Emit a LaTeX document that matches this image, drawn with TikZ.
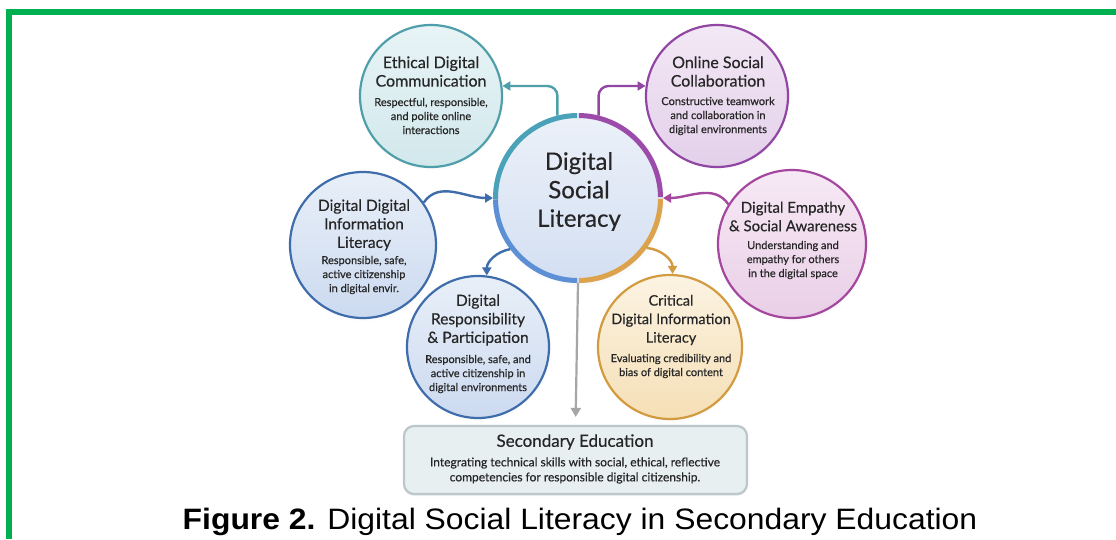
\documentclass[tikz,border=0pt]{standalone}
\usepackage{fontspec}
\setmainfont{Lato}
\newfontfamily\medfont{Lato}[FakeBold=0.45]
\newfontfamily\capfont{Liberation Sans}
\usetikzlibrary{arrows.meta,shadows}
\definecolor{grn}{HTML}{00B050}
\definecolor{tealB}{HTML}{4E9FAA}
\definecolor{tealT}{HTML}{E8F4F6}
\definecolor{tealD}{HTML}{D2E8EC}
\definecolor{purB}{HTML}{9146A3}
\definecolor{purT}{HTML}{F3E8F5}
\definecolor{purD}{HTML}{E3D0EA}
\definecolor{bluB}{HTML}{3F6DAC}
\definecolor{bluT}{HTML}{E8EFF8}
\definecolor{bluD}{HTML}{CCDAF0}
\definecolor{oraB}{HTML}{D29B3F}
\definecolor{oraT}{HTML}{FCF3E2}
\definecolor{oraD}{HTML}{F5DFB6}
\definecolor{magB}{HTML}{A5479F}
\definecolor{magT}{HTML}{F7E9F5}
\definecolor{magD}{HTML}{E9CFE7}
\definecolor{cenT}{HTML}{ECF1F9}
\definecolor{cenD}{HTML}{D3DFF2}
\definecolor{ringTeal}{HTML}{4AA2B8}
\definecolor{ringPur}{HTML}{9C4BAA}
\definecolor{ringOra}{HTML}{DCA34C}
\definecolor{ringBlu}{HTML}{5C8FD4}
\definecolor{txt}{HTML}{262626}
\definecolor{gry}{HTML}{A6A6A6}
\definecolor{boxF}{HTML}{E7EFF1}
\definecolor{boxB}{HTML}{BAC7CB}
\tikzset{
  bub/.style={circle, inner sep=0pt, line width=2.2pt,
    circular drop shadow={opacity=0.12, shadow xshift=1pt, shadow yshift=-2pt, shadow scale=1.02}},
  ttl/.style={align=center, text=txt, inner sep=0pt, font=\medfont\fontsize{#1}{18.5}\selectfont},
  ttl/.default=15,
  dsc/.style={align=center, text=txt, inner sep=0pt, font=\medfont\fontsize{11}{14}\selectfont},
  arr/.style={line width=2.4pt, -{Triangle[length=8pt,width=9pt]}, rounded corners=10pt},
  ring/.style={line width=5pt}
}
\begin{document}
\begin{tikzpicture}[x=1pt,y=1pt]
\useasboundingbox (0,0) rectangle (1116,-539);
\fill[white] (0,0) rectangle (1116,-539);
% green frame
\draw[grn, line width=6pt, line join=miter] (9.2,-539) -- (9.2,-12) -- (1116,-12);

% outer circles
\node[bub, draw=tealB, top color=tealT, bottom color=tealD, minimum size=142pt] (eth) at (431,-96) {};
\node[bub, draw=purB, top color=purT, bottom color=purD, minimum size=142pt] (col) at (717,-96) {};
\node[bub, draw=bluB, top color=bluT, bottom color=bluD, minimum size=146pt] (ddil) at (363,-245) {};
\node[bub, draw=bluB, top color=bluT, bottom color=bluD, minimum size=142pt] (drp) at (478,-347) {};
\node[bub, draw=oraB, top color=oraT, bottom color=oraD, minimum size=144pt] (crit) at (670,-347) {};
\node[bub, draw=magB, top color=magT, bottom color=magD, minimum size=148pt] (emp) at (792,-244) {};

% central circle
\node[bub, top color=cenT, bottom color=cenD, minimum size=170pt, line width=0pt] (c) at (578,-198) {};
\draw[ring, ringTeal] (c.center) ++(181:82.5) arc[start angle=181, end angle=90.6, radius=82.5];
\draw[ring, ringPur] (c.center) ++(89.4:82.5) arc[start angle=89.4, end angle=0.6, radius=82.5];
\draw[ring, ringOra] (c.center) ++(-0.6:82.5) arc[start angle=-0.6, end angle=-89.4, radius=82.5];
\draw[ring, ringBlu] (c.center) ++(-90.6:82.5) arc[start angle=-90.6, end angle=-179, radius=82.5];

% secondary education box
\node[rounded corners=10pt, draw=boxB, fill=boxF, line width=2.2pt, minimum width=343pt, minimum height=68pt,
  drop shadow={opacity=0.1, shadow xshift=0pt, shadow yshift=-2pt}] (box) at (575.5,-460) {};

% connectors
\draw[arr, tealB] (c.104) |- (eth.8);
\draw[arr, purB] (c.76) |- (col.172);
\draw[arr, bluB] (ddil.35) to[out=55, in=180] (c.180);
\draw[arr, bluB] (c.217) to[out=190, in=90] (drp.83);
\draw[arr, oraB] (c.-36) to[out=-5, in=90] (crit.88);
\draw[arr, magB] (emp.148) to[out=125, in=0] (c.0);
\draw[line width=2.2pt, gry, -{Triangle[length=9pt,width=10pt]}, shorten >=8pt] (c.south) -- (box.north);

% texts
\node[align=center, text=txt, inner sep=0pt, font=\medfont\fontsize{24}{28.5}\selectfont] (cT) at (579,-191.5) {Digital\\Social\\Literacy};

\node[ttl=16] (ethT) at (431,-71.5) {Ethical Digital\\Communication};
\node[dsc] (ethD) at (431,-116) {Respectful, responsible,\\and polite online\\interactions};

\node[ttl=16] (colT) at (718,-71.5) {Online Social\\Collaboration};
\node[dsc] (colD) at (718,-116) {Constructive teamwork\\and collaboration in\\digital environments};

\node[ttl=15.5] (ddilT) at (364,-225) {Digital Digital\\Information\\Literacy};
\node[dsc] (ddilD) at (364,-275) {Responsible, safe,\\active citizenship\\in digital envir.};

\node[ttl=15.5] (drpT) at (478,-320) {Digital\\Responsibility\\\& Participation};
\node[dsc] (drpD) at (478,-374) {Responsible, safe, and\\active citizenship in\\digital environments};

\node[ttl=14.5] (critT) at (671,-320) {Critical\\Digital Information\\Literacy};
\node[dsc] (critD) at (671,-366) {Evaluating credibility and\\bias of digital content};

\node[ttl=15] (empT) at (793,-216.5) {Digital Empathy\\\& Social Awareness};
\node[dsc] (empD) at (793,-260) {Understanding and\\empathy for others\\in the digital space};

\node[ttl=17] (boxT) at (575,-442) {Secondary Education};
\node[dsc, font=\medfont\fontsize{12}{15}\selectfont] (boxD) at (575,-470.5) {Integrating technical skills with social, ethical, reflective\\competencies for responsible digital citizenship.};

% caption
\node[inner sep=0pt, anchor=base, text=black, font=\capfont\fontsize{29.5}{32}\selectfont] (cap) at (580,-529.3) {\scalebox{1.08}[1]{\textbf{Figure 2.} Digital Social Literacy in Secondary Education}};
\end{tikzpicture}
\end{document}
